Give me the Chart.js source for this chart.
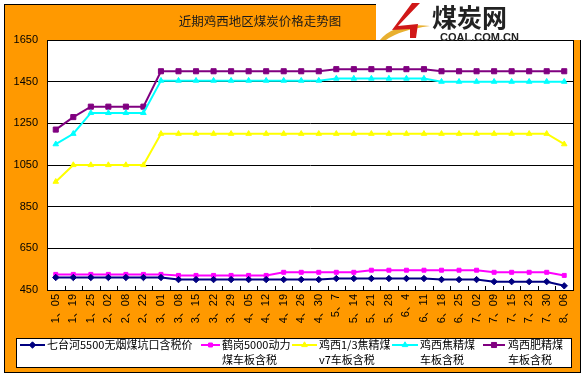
<!DOCTYPE html>
<html><head><meta charset="utf-8">
<script src="https://cdn.jsdelivr.net/npm/chart.js@4"></script>
<style>html,body{margin:0;padding:0;background:#fff}#wrap{width:585px;height:375px;position:relative}</style>
</head><body><div id="wrap"><canvas id="c" width="585" height="375"></canvas></div>
<script>
// ---- data ----
const categories = ['1、05','1、19','1、25','2、02','2、08','2、22','3、01','3、08','3、15','3、22','3、29','4、05','4、12','4、19','4、26','4、30','5、7','5、14','5、21','5、28','6、4','6、11','6、18','6、25','7、02','7、09','7、15','7、23','7、30','8、06'];
const qitaiheValues = [510,510,510,510,510,510,510,500,500,500,500,500,500,500,500,500,505,505,505,505,505,505,500,500,500,490,490,490,490,470];
const hegangValues  = [525,525,525,525,525,525,525,520,520,520,520,520,520,535,535,535,535,535,545,545,545,545,545,545,545,535,535,535,535,520];
const jixi13Values  = [970,1050,1050,1050,1050,1050,1200,1200,1200,1200,1200,1200,1200,1200,1200,1200,1200,1200,1200,1200,1200,1200,1200,1200,1200,1200,1200,1200,1200,1150];
const jixiJiaoValues= [1150,1200,1300,1300,1300,1300,1455,1455,1455,1455,1455,1455,1455,1455,1455,1455,1465,1465,1465,1465,1465,1465,1450,1450,1450,1450,1450,1450,1450,1450];
const jixiFeiValues = [1220,1280,1330,1330,1330,1330,1500,1500,1500,1500,1500,1500,1500,1500,1500,1500,1510,1510,1510,1510,1510,1510,1500,1500,1500,1500,1500,1500,1500,1500];
const seriesLabels = [
  ['七台河5500无烟煤坑口含税价'],
  ['鹤岗5000动力','煤车板含税'],
  ['鸡西1/3焦精煤','v7车板含税'],
  ['鸡西焦精煤','车板含税'],
  ['鸡西肥精煤','车板含税']
];
const yTickValues = [450,650,850,1050,1250,1450,1650];
const titleText = '近期鸡西地区煤炭价格走势图';

// ---- styles ----
const ORANGE = '#FF9900';
const CJK = '"Noto Sans CJK SC"';
const styles = [
  {color:'#000080', point:'rectRot', r:3.2},
  {color:'#FF00FF', point:'rect', r:2.8},
  {color:'#FFFF00', point:'triangle', r:3.2},
  {color:'#00FFFF', point:'triangle', r:3.2},
  {color:'#800080', point:'rect', r:3.6}
];
const legendX = [20, 201, 292, 392, 483]; // sample line start
const legendTextX = [47, 222, 319, 420, 508];
const legendLineLen = [25, 19, 25, 26, 22];

const allValues = [qitaiheValues, hegangValues, jixi13Values, jixiJiaoValues, jixiFeiValues];
const datasets = allValues.map((v,i)=>({
  label: seriesLabels[i].join(''),
  data: v,
  borderColor: styles[i].color,
  backgroundColor: styles[i].color,
  pointBackgroundColor: styles[i].color,
  pointBorderColor: styles[i].color,
  pointStyle: styles[i].point,
  pointRadius: styles[i].r,
  pointBorderWidth: 1,
  borderWidth: 2,
  tension: 0,
  fill: false
}));

const decor = {
  id:'decor',
  beforeDraw(chart){
    const ctx = chart.ctx, a = chart.chartArea;
    ctx.save();
    ctx.fillStyle = '#fff';
    ctx.fillRect(0,0,chart.width,chart.height);
    ctx.fillStyle = ORANGE;
    ctx.fillRect(4,4,576,368);
    ctx.strokeStyle = '#000'; ctx.lineWidth = 1;
    ctx.strokeRect(4.5,4.5,576,368);
    ctx.fillStyle = '#fff';
    ctx.fillRect(a.left,a.top,a.right-a.left,a.bottom-a.top);
    // title
    ctx.fillStyle = '#1a1a1a';
    ctx.font = '12.5px '+CJK;
    ctx.textAlign = 'center'; ctx.textBaseline = 'middle';
    ctx.fillText(titleText, 260, 21);
    ctx.restore();
  },
  afterDraw(chart){
    const ctx = chart.ctx, a = chart.chartArea, xs = chart.scales.x;
    ctx.save();
    ctx.strokeStyle = '#000'; ctx.lineWidth = 1;
    ctx.strokeRect(Math.round(a.left)+0.5, Math.round(a.top)+0.5, Math.round(a.right-a.left), Math.round(a.bottom-a.top));
    // inward ticks at category boundaries
    const n = categories.length;
    const step = xs.getPixelForValue(1) - xs.getPixelForValue(0);
    ctx.beginPath();
    for (let i=0;i<n-1;i++){
      const x = Math.round(xs.getPixelForValue(i) + step/2) + 0.5;
      ctx.moveTo(x, a.bottom); ctx.lineTo(x, a.bottom-4);
    }
    ctx.stroke();
    // legend
    ctx.fillStyle = '#fff';
    ctx.fillRect(16,338,555,29);
    ctx.strokeRect(16.5,338.5,555,29);
    ctx.font = '11px '+CJK;
    ctx.textAlign = 'left'; ctx.textBaseline = 'middle';
    for (let i=0;i<5;i++){
      const st = styles[i];
      const y = 345;
      ctx.strokeStyle = st.color; ctx.fillStyle = st.color; ctx.lineWidth = 2;
      ctx.beginPath(); ctx.moveTo(legendX[i], y); ctx.lineTo(legendX[i]+legendLineLen[i], y); ctx.stroke();
      ctx.lineWidth = 1;
      Chart.helpers.drawPoint(ctx, {pointStyle: st.point, radius: st.r, rotation:0, borderWidth:1}, legendX[i]+legendLineLen[i]/2, y);
      ctx.fillStyle = '#000';
      seriesLabels[i].forEach((t,k)=>ctx.fillText(t, legendTextX[i], y + k*15));
    }
    // logo
    ctx.fillStyle = '#fff';
    ctx.fillRect(376,0,209,40);
    ctx.fillStyle = '#e8b030';
    ctx.beginPath();
    ctx.moveTo(380,40); ctx.quadraticCurveTo(395,22,430,26); ctx.quadraticCurveTo(400,30,386,40); ctx.closePath(); ctx.fill();
    ctx.fillStyle = '#d01818';
    ctx.beginPath();
    ctx.moveTo(412,3); ctx.lineTo(420,3); ctx.lineTo(398,26); ctx.lineTo(418,24); ctx.lineTo(416,38); ctx.lineTo(410,38); ctx.lineTo(410,29); ctx.lineTo(392,30); ctx.closePath(); ctx.fill();
    ctx.fillStyle = '#222';
    ctx.font = 'bold 25px '+CJK;
    ctx.textAlign = 'left'; ctx.textBaseline = 'middle';
    ctx.fillText('煤炭网', 432, 17);
    ctx.font = 'bold 11px "Liberation Sans"';
    ctx.fillText('COAL.COM.CN', 440, 38);
    ctx.restore();
  }
};

new Chart(document.getElementById('c'), {
  type:'line',
  data:{labels:categories, datasets},
  options:{
    responsive:false, animation:false, devicePixelRatio:1,
    layout:{padding:{top:40, right:12, left:0, bottom:0}},
    plugins:{legend:{display:false}, title:{display:false}, tooltip:{enabled:false}},
    scales:{
      x:{
        offset:true,
        grid:{display:true, drawOnChartArea:false, drawTicks:false, color:'#000'},
        border:{display:true, color:'#000', width:1},
        ticks:{autoSkip:false, minRotation:90, maxRotation:90, padding:4, color:'#000',
               font:{family:'"Liberation Sans", '+CJK, size:11}},
        afterFit(s){ s.height = 85; }
      },
      y:{
        min:450, max:1650,
        afterBuildTicks(s){ s.ticks = yTickValues.map(v=>({value:v})); },
        grid:{color:'#000', lineWidth:1, drawTicks:false},
        border:{display:true, color:'#000', width:1},
        ticks:{padding:9, color:'#000', font:{family:'"Liberation Sans"', size:11},
               callback:(v)=>String(v)},
        afterFit(s){ s.width = 47; }
      }
    }
  },
  plugins:[decor]
});
</script>
</body></html>
